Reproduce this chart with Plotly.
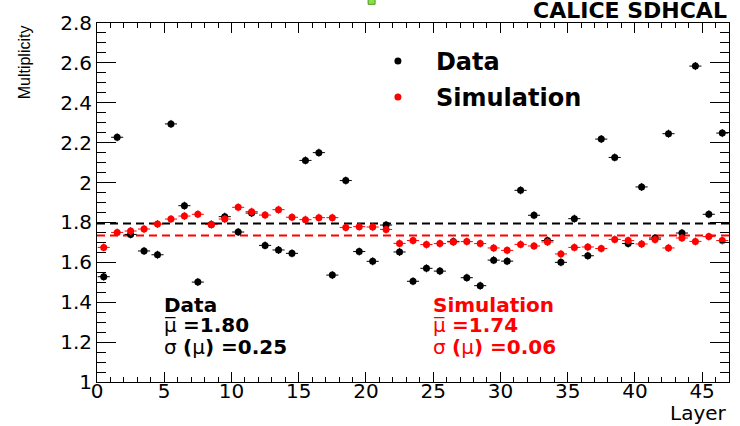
import plotly.graph_objects as go

# multiplicity per layer
layers = [i + 0.5 for i in range(47)]

data_mult = [1.528, 2.227, 1.740, 1.657, 1.638, 2.294, 1.884, 1.501, 1.790, 1.829,
             1.752, 1.847, 1.685, 1.662, 1.645, 2.111, 2.150, 1.536, 2.010, 1.654,
             1.605, 1.787, 1.652, 1.505, 1.570, 1.556, 1.705, 1.523, 1.483, 1.611,
             1.606, 1.961, 1.836, 1.709, 1.600, 1.819, 1.633, 2.218, 2.126, 1.694,
             1.978, 1.722, 2.245, 1.747, 2.584, 1.841, 2.248]

sim_mult = [1.675, 1.750, 1.757, 1.767, 1.792, 1.817, 1.832, 1.841, 1.790, 1.817,
            1.876, 1.854, 1.837, 1.864, 1.826, 1.814, 1.824, 1.824, 1.775, 1.779,
            1.777, 1.765, 1.695, 1.709, 1.689, 1.694, 1.702, 1.704, 1.694, 1.672,
            1.660, 1.690, 1.682, 1.702, 1.642, 1.675, 1.677, 1.669, 1.715, 1.709,
            1.692, 1.714, 1.672, 1.722, 1.705, 1.729, 1.709]

data_mean = 1.795
sim_mean = 1.735
x_span = [0, 47]

FONT = "DejaVu Sans"
RED = "#ff0000"

fig = go.Figure()

# dashed mean lines
fig.add_trace(go.Scatter(x=x_span, y=[data_mean, data_mean], mode="lines",
                         line=dict(color="black", width=2, dash="8px,5px"),
                         showlegend=False, hoverinfo="skip"))
fig.add_trace(go.Scatter(x=x_span, y=[sim_mean, sim_mean], mode="lines",
                         line=dict(color=RED, width=2, dash="8px,5px"),
                         showlegend=False, hoverinfo="skip"))

fig.add_trace(go.Scatter(
    x=layers, y=data_mult, mode="markers", name="<b>Data</b>",
    legendgroup="d",
    marker=dict(color="black", size=7),
    error_x=dict(type="constant", value=0.45, color="black", thickness=1, width=0),
    error_y=dict(type="constant", value=0.02, color="black", thickness=1, width=0),
))
fig.add_trace(go.Scatter(
    x=layers, y=sim_mult, mode="markers", name="<b>Simulation</b>",
    legendgroup="s",
    marker=dict(color=RED, size=7),
    error_x=dict(type="constant", value=0.45, color=RED, thickness=1, width=0),
    error_y=dict(type="constant", value=0.02, color=RED, thickness=1, width=0),
))

# stat boxes
stats = [
    (4.9, "black", ["<b>Data</b>", "μ\u0305 <b>=1.80</b>", "σ <b>(</b>μ<b>) =0.25</b>"]),
    (24.9, RED, ["<b>Simulation</b>", "μ\u0305 <b>=1.74</b>", "σ <b>(</b>μ<b>) =0.06</b>"]),
]
rows_y = [1.384, 1.284, 1.177]
for x0, col, lines in stats:
    for yy, txt in zip(rows_y, lines):
        fig.add_annotation(x=x0, y=yy, xref="x", yref="y", text=txt, showarrow=False,
                           xanchor="left", yanchor="middle", borderpad=0,
                           font=dict(family=FONT, size=20, color=col))

fig.add_annotation(x=1.0, y=1.0, xref="paper", yref="paper", yshift=-2,
                   text="<b>CALICE SDHCAL</b>", showarrow=False,
                   xanchor="right", yanchor="bottom",
                   font=dict(family=FONT, size=22, color="black"))
fig.add_annotation(x=-0.115, y=1.0, xref="paper", yref="paper",
                   text="Multiplicity", textangle=-90, showarrow=False,
                   xanchor="center", yanchor="top",
                   font=dict(family="Liberation Sans", size=16, color="black"))
fig.add_annotation(x=1.0, y=-0.047, xref="paper", yref="paper",
                   text="Layer", showarrow=False,
                   xanchor="right", yanchor="top",
                   font=dict(family=FONT, size=20, color="black"))

# small green marker at the top edge seen in the original
fig.add_shape(type="rect", xref="paper", yref="paper",
              x0=0.429, x1=0.44, y0=1.052, y1=1.066,
              fillcolor="#8be04a", line=dict(color="#4a9a20", width=1))

axis_common = dict(showline=True, linecolor="black", linewidth=1, mirror="ticks",
                   ticks="inside", tickcolor="black", showgrid=False, zeroline=False,
                   tickfont=dict(family=FONT, size=20, color="black"))

fig.update_layout(
    width=740, height=426,
    margin=dict(l=97, r=11, t=23, b=44),
    paper_bgcolor="white", plot_bgcolor="white",
    xaxis=dict(range=[0, 47], dtick=5, tick0=0, ticklen=10, ticklabelstandoff=-9,
               minor=dict(dtick=1, ticklen=5, ticks="inside", tickcolor="black"),
               **axis_common),
    yaxis=dict(range=[1, 2.8], dtick=0.2, tick0=1, ticklen=19,
               minor=dict(dtick=0.05, ticklen=9, ticks="inside", tickcolor="black"),
               **axis_common),
    legend=dict(x=0.416, y=0.956, xanchor="left", yanchor="top",
                itemwidth=66, tracegroupgap=2, bgcolor="rgba(0,0,0,0)",
                font=dict(family=FONT, size=24, color="black")),
    showlegend=True,
)

fig.write_html("out.html", config={"displayModeBar": False},
               post_script="document.body.style.margin='0';")
